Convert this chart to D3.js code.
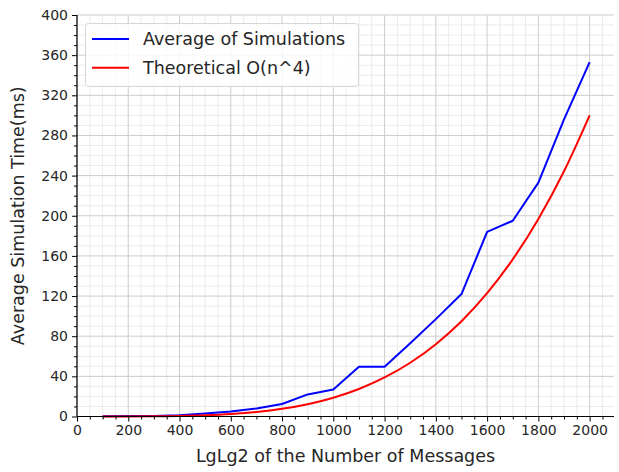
<!DOCTYPE html>
<html>
<head>
<meta charset="utf-8">
<script src="https://cdn.jsdelivr.net/npm/d3@7"></script>
<style>
  body { margin: 0; background: #fff; }
  svg text { font-family: "DejaVu Sans", sans-serif; fill: #262626; }
</style>
</head>
<body>
<svg id="chart" width="619" height="472"></svg>
<script>
// data
var msgCounts = [100, 200, 300, 400, 500, 600, 700, 800, 900, 1000,
    1100, 1200, 1300, 1400, 1500, 1600, 1700, 1800, 1900, 2000];
var simAvg = [0.3, 0.4, 0.6, 1.2, 3, 5, 8, 12.5, 22, 27,
    49.5, 49.5, 73, 97, 122, 184, 195, 233, 296, 353];
var theory = [0.0, 0.03, 0.15, 0.48, 1.17, 2.43, 4.5, 7.68, 12.3, 18.75,
    27.45, 38.88, 53.55, 72.03, 94.92, 122.88, 156.6, 196.83, 244.35, 300];
var xTicks = [0, 200, 400, 600, 800, 1000, 1200, 1400, 1600, 1800, 2000];
var yTicks = [0, 40, 80, 120, 160, 200, 240, 280, 320, 360, 400];
var seriesNames = ["Average of Simulations", "Theoretical O(n^4)"];
var seriesColors = ["#0000ff", "#ff0000"];

function drawChart() {
    let svg = d3.select("#chart");
    // plotting area
    let pL = 77, pR = 614, pT = 15, pB = 416.5;

    let x = d3.scaleLinear().domain([0, 2095]).range([pL, pR]);
    let y = d3.scaleLinear().domain([0, 400]).range([pB, pT]);

    // minor grid first, then major
    let xMinor = d3.range(0, 2095, 50).filter(v => v % 200 != 0);
    let yMinor = d3.range(0, 401, 10).filter(v => v % 40 != 0);

    let grid = svg.append("g");
    let vLines = function (vals, col, w) {
        grid.append("g").selectAll("line").data(vals).join("line")
            .attr("x1", d => x(d)).attr("x2", d => x(d))
            .attr("y1", pT).attr("y2", pB)
            .attr("stroke", col).attr("stroke-width", w);
    };
    let hLines = function (vals, col, w) {
        grid.append("g").selectAll("line").data(vals).join("line")
            .attr("x1", pL).attr("x2", pR)
            .attr("y1", d => y(d)).attr("y2", d => y(d))
            .attr("stroke", col).attr("stroke-width", w);
    };
    vLines(xMinor, "#e6e6e6", 0.8);
    hLines(yMinor, "#e6e6e6", 0.8);
    vLines(xTicks, "#cccccc", 1);
    hLines(yTicks, "#cccccc", 1);

    // lines: simulations as a polyline, the theoretical curve smoothed
    let rows = [simAvg, theory];
    let curves = [d3.curveLinear, d3.curveMonotoneX];
    svg.append("g").selectAll("path").data(rows).join("path")
        .attr("d", (d, i) => d3.line().curve(curves[i])
            .x((v, j) => x(msgCounts[j])).y(v => y(v))(d))
        .attr("fill", "none")
        .attr("stroke", (d, i) => seriesColors[i])
        .attr("stroke-width", 2)
        .attr("stroke-linejoin", "round");

    // axes (left and bottom only)
    let fmt = d3.format("d");
    let xAxis = svg.append("g").attr("transform", "translate(0," + pB + ")");
    xAxis.append("g").call(d3.axisBottom(x).tickValues(xMinor).tickSize(3).tickFormat(""));
    xAxis.append("g").call(d3.axisBottom(x).tickValues(xTicks).tickSize(5)
        .tickPadding(4).tickFormat(fmt));
    let yAxis = svg.append("g").attr("transform", "translate(" + pL + ",0)");
    yAxis.append("g").call(d3.axisLeft(y).tickValues(yMinor).tickSize(3).tickFormat(""));
    yAxis.append("g").call(d3.axisLeft(y).tickValues(yTicks).tickSize(5)
        .tickPadding(4).tickFormat(fmt));

    svg.selectAll(".domain").remove();
    svg.append("line").attr("x1", pL).attr("x2", pR).attr("y1", pB).attr("y2", pB)
        .attr("stroke", "#000").attr("stroke-width", 1.2);
    svg.append("line").attr("x1", pL).attr("x2", pL).attr("y1", pT).attr("y2", pB)
        .attr("stroke", "#000").attr("stroke-width", 1.2);
    svg.selectAll(".tick line").attr("stroke", "#000");
    svg.selectAll(".tick text").attr("font-size", 14)
        .attr("font-family", "DejaVu Sans, sans-serif").attr("fill", "#262626");

    // axis labels
    svg.append("text").attr("x", (pL + pR) / 2).attr("y", 462)
        .attr("text-anchor", "middle").attr("font-size", 17.5)
        .text("LgLg2 of the Number of Messages");
    svg.append("text")
        .attr("transform", "translate(24," + (pT + pB) / 2 + ") rotate(-90)")
        .attr("text-anchor", "middle").attr("font-size", 17.5)
        .text("Average Simulation Time(ms)");

    // legend
    let lg = svg.append("g");
    lg.append("rect").attr("x", 85.5).attr("y", 23.5).attr("width", 273).attr("height", 63)
        .attr("rx", 3).attr("fill", "rgba(255,255,255,0.8)")
        .attr("stroke", "#d6d6d6").attr("stroke-width", 1);
    seriesNames.forEach(function (name, i) {
        let cy = 39 + i * 28.7;
        lg.append("line").attr("x1", 92).attr("x2", 129).attr("y1", cy).attr("y2", cy)
            .attr("stroke", seriesColors[i]).attr("stroke-width", 2);
        lg.append("text").attr("x", 143).attr("y", cy + 6).attr("font-size", 17.5).text(name);
    });
}

drawChart();
</script>
</body>
</html>
